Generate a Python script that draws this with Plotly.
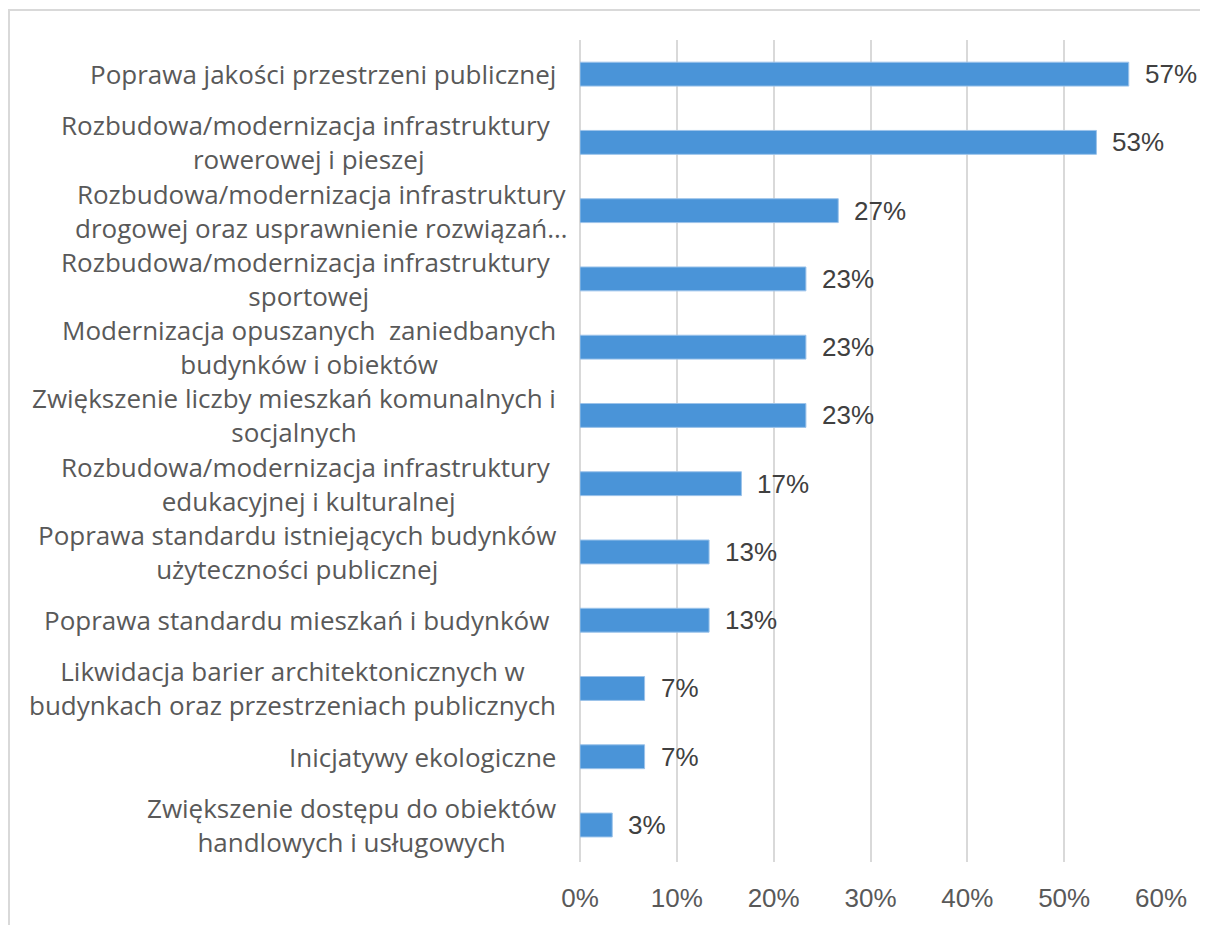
import plotly.graph_objects as go

# ---- data ----
categories = [
    "Poprawa jakości przestrzeni publicznej",
    "Rozbudowa/modernizacja infrastruktury\u00a0<br>rowerowej i pieszej",
    "Rozbudowa/modernizacja infrastruktury<br>drogowej oraz usprawnienie rozwiązań…",
    "Rozbudowa/modernizacja infrastruktury\u00a0<br>sportowej",
    "Modernizacja opuszanych \u00a0zaniedbanych<br>budynków i obiektów",
    "Zwiększenie liczby mieszkań komunalnych i<br>socjalnych",
    "Rozbudowa/modernizacja infrastruktury\u00a0<br>edukacyjnej i kulturalnej",
    "Poprawa standardu istniejących budynków<br>użyteczności publicznej",
    "Poprawa standardu mieszkań i budynków\u00a0",
    "Likwidacja barier architektonicznych w<br>budynkach oraz przestrzeniach publicznych",
    "Inicjatywy ekologiczne",
    "Zwiększenie dostępu do obiektów<br>handlowych i usługowych",
]
values = [0.5667, 0.5333, 0.2667, 0.2333, 0.2333, 0.2333, 0.1667, 0.1333, 0.1333, 0.0667, 0.0667, 0.0333]
value_labels = ["57%", "53%", "27%", "23%", "23%", "23%", "17%", "13%", "13%", "7%", "7%", "3%"]
x_ticks = [0, 0.1, 0.2, 0.3, 0.4, 0.5, 0.6]
x_tick_labels = ["0%", "10%", "20%", "30%", "40%", "50%", "60%"]

# ---- style ----
# page has an 8px body margin, so the figure is 8px smaller than the window
W, H = 1200, 917
L, R, T, B = 572, 47, 32, 63
FONT = "Open Sans"
NUMFONT = "Liberation Sans"
FS = 26
BAR = "#4a94d8"
GRID = "#d9d9d9"

fig = go.Figure()
fig.add_trace(go.Bar(
    x=values, y=categories, orientation="h",
    marker=dict(color=BAR, line=dict(color="#9cc3ea", width=1)),
    width=0.35, hoverinfo="skip",
))

ann = []
label_shift = {2: 12}
for i, (c, v, t) in enumerate(zip(categories, values, value_labels)):
    ann.append(dict(x=0, y=c, xref="x", yref="y", text=c, showarrow=False,
                    xanchor="right", yanchor="middle", align="center",
                    xshift=-22 + label_shift.get(i, 0),
                    font=dict(family=FONT, size=FS, color="#595959")))
    ann.append(dict(x=v, y=c, xref="x", yref="y", text=t, showarrow=False,
                    xanchor="left", yanchor="middle", xshift=14,
                    font=dict(family=NUMFONT, size=FS, color="#404040")))

pw = W - L - R
ph = H - T - B
bx0 = (1 - L) / pw
by1 = (H - B - 2) / ph
fig.add_shape(type="path", xref="paper", yref="paper",
              path=f"M {bx0} -0.5 L {bx0} {by1} L 1.2 {by1}",
              line=dict(color=GRID, width=2), layer="below")

fig.update_layout(
    width=W, height=H,
    margin=dict(l=L, r=R, t=T, b=B, pad=0),
    paper_bgcolor="white", plot_bgcolor="white",
    showlegend=False,
    annotations=ann,
    font=dict(family=FONT, size=FS, color="#595959"),
    xaxis=dict(range=[0, 0.6], tickvals=x_ticks, ticktext=x_tick_labels,
               showgrid=True, gridcolor=GRID, gridwidth=2,
               zeroline=True, zerolinecolor=GRID, zerolinewidth=2,
               showline=False, ticks="", ticklabelstandoff=18,
               tickfont=dict(family=NUMFONT, size=FS, color="#595959"),
               fixedrange=True),
    yaxis=dict(autorange="reversed", showticklabels=False, showgrid=False,
               zeroline=False, showline=False, ticks="", fixedrange=True),
)

fig.write_html("out.html")
